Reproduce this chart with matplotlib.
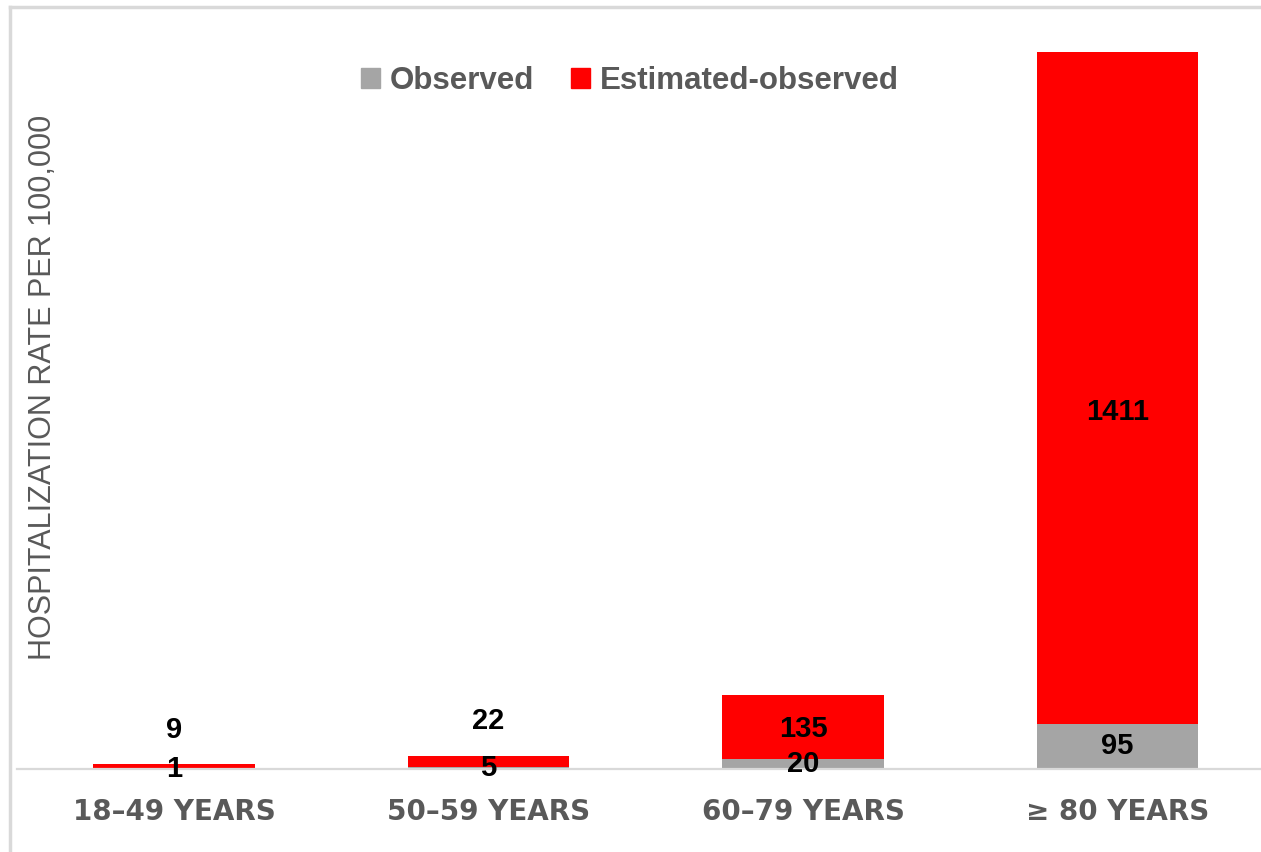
import matplotlib
matplotlib.use("Agg")
import matplotlib.pyplot as plt
from matplotlib.lines import Line2D
from matplotlib.patches import Patch
import numpy as np

categories = ["18–49 YEARS", "50–59 YEARS", "60–79 YEARS", "≥ 80 YEARS"]
observed = [1, 5, 20, 95]
estimated_minus_observed = [9, 22, 135, 1411]
series_names = ["Observed", "Estimated-observed"]

GRAY = "#A5A5A5"
RED = "#FF0000"
TXT = "#595959"

W, H = 1261, 852
fig = plt.figure(figsize=(W / 100, H / 100), dpi=100)

narrow = ["Liberation Sans Narrow", "Liberation Sans", "DejaVu Sans"]

# axes placement (pixels)
left_px, bottom_px, width_px, height_px = 16.75, 83, 1258, 742.6
ax = fig.add_axes([left_px / W, bottom_px / H, width_px / W, height_px / H])
ax.set_xlim(-0.5, 3.5)
ax.set_ylim(0, 1560)

x = np.arange(len(categories))
bw = 0.515
ax.bar(x, observed, bw, color=GRAY, label=series_names[0], zorder=2)
ax.bar(x, estimated_minus_observed, bw, bottom=observed, color=RED,
       label=series_names[1], zorder=2)

lab_kw = dict(fontsize=21, fontweight="bold", color="black", family=narrow,
              ha="center", va="center", zorder=3)
for i in range(len(x)):
    ax.text(x[i], observed[i] / 2, str(observed[i]), **lab_kw)
    top = observed[i] + estimated_minus_observed[i]
    if estimated_minus_observed[i] < 60:
        ax.annotate(str(estimated_minus_observed[i]), (x[i], top),
                    xytext=(0, 25), textcoords="offset points", **lab_kw)
    else:
        ax.annotate(str(estimated_minus_observed[i]),
                    (x[i], observed[i] + estimated_minus_observed[i] / 2),
                    xytext=(0, -17 if estimated_minus_observed[i] > 1000 else -1),
                    textcoords="offset points", **lab_kw)

for s in ["top", "right", "left"]:
    ax.spines[s].set_visible(False)
ax.spines["bottom"].set_color("#D9D9D9")
ax.spines["bottom"].set_linewidth(1.6)
ax.set_yticks([])
ax.set_xticks(x)
ax.set_xticklabels(categories, fontsize=20, fontweight="bold", color=TXT,
                   family=["DejaVu Sans"])
ax.tick_params(axis="x", length=0, pad=21)

ax.set_ylabel("HOSPITALIZATION RATE PER 100,000", fontsize=22, color=TXT,
              family=narrow)
ax.yaxis.set_label_coords((58 - left_px) / width_px, (852 - 387 - bottom_px) / height_px)

handles = [Patch(color=GRAY), Patch(color=RED)]
leg = fig.legend(handles, series_names, loc="center", bbox_to_anchor=(630 / W, 1 - 81 / H),
                 ncol=2, frameon=False, handlelength=0.6, handleheight=0.6,
                 handletextpad=0.3, columnspacing=1.2,
                 prop={"family": narrow, "size": 22.5, "weight": "bold"})
for t in leg.get_texts():
    t.set_color(TXT)

# chart-area border (cropped at top/left)
fig.add_artist(Line2D([10 / W, 1], [1 - 7 / H, 1 - 7 / H], transform=fig.transFigure,
                      color="#D9D9D9", lw=2.5))
fig.add_artist(Line2D([10 / W, 10 / W], [0, 1 - 7 / H], transform=fig.transFigure,
                      color="#D9D9D9", lw=2.5))

fig.savefig("out.png", dpi=100)
